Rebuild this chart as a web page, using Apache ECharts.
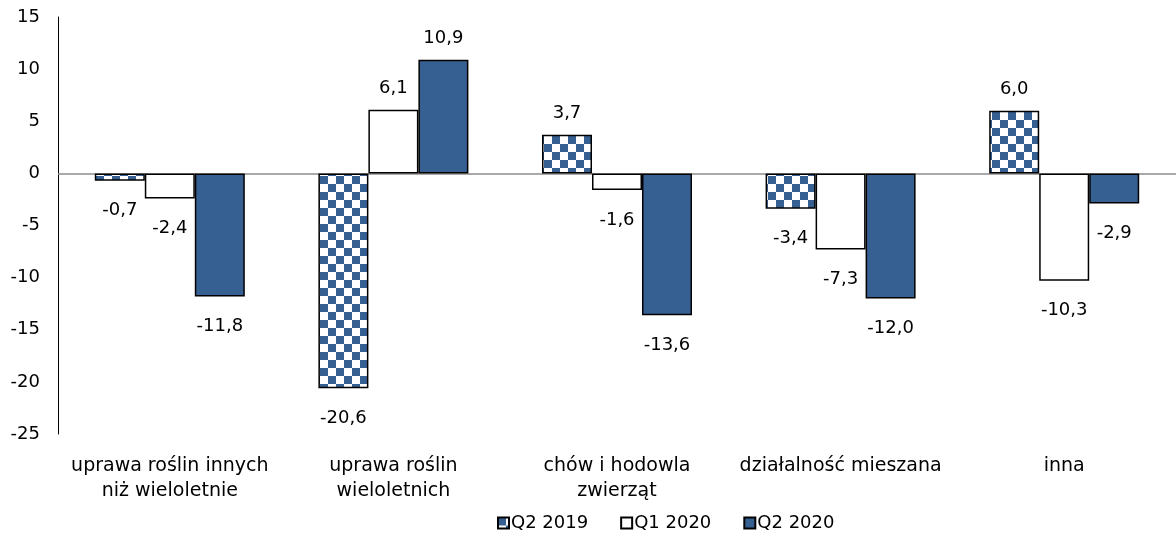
<!DOCTYPE html>
<html>
<head>
<meta charset="utf-8">
<script src="https://cdn.jsdelivr.net/npm/echarts@6/dist/echarts.min.js"></script>
<style>
  html, body { margin: 0; padding: 0; background: #ffffff; }
  #chart { width: 1176px; height: 537px; }
</style>
</head>
<body>
<div id="chart"></div>
<script>
// Categories (farm type) and values per quarter
const categories = [
  'uprawa roślin innych\nniż wieloletnie',
  'uprawa roślin\nwieloletnich',
  'chów i hodowla\nzwierząt',
  'działalność mieszana',
  'inna'
];
const seriesNames = ['Q2 2019', 'Q1 2020', 'Q2 2020'];
const q2_2019 = [-0.7, -20.6, 3.7, -3.4, 6.0];
const q1_2020 = [-2.4, 6.1, -1.6, -7.3, -10.3];
const q2_2020 = [-11.8, 10.9, -13.6, -12.0, -2.9];
const yTicks = { min: -25, max: 15, step: 5 };

const BLUE = '#376092';
const FONT = 'DejaVu Sans';

// Checkerboard fill for the first series
function checker(cell) {
  const c = document.createElement('canvas');
  c.width = c.height = cell * 2;
  const g = c.getContext('2d');
  g.fillStyle = '#ffffff';
  g.fillRect(0, 0, cell * 2, cell * 2);
  g.fillStyle = BLUE;
  g.fillRect(0, 0, cell, cell);
  g.fillRect(cell, cell, cell, cell);
  return c;
}

const fmt = v => v.toFixed(1).replace('.', ',');

function makeData(values) {
  return values.map(v => ({
    value: v,
    label: {
      position: v >= 0 ? 'top' : 'bottom',
      distance: v >= 0 ? 12 : 21
    }
  }));
}

const fills = [
  { image: checker(8), repeat: 'repeat' },
  '#ffffff',
  BLUE
];

const allValues = [q2_2019, q1_2020, q2_2020];

const series = allValues.map((vals, i) => ({
  name: seriesNames[i],
  type: 'bar',
  barWidth: 50,
  barGap: '0%',
  barCategoryGap: '33%',
  itemStyle: { color: fills[i], borderColor: '#000000', borderWidth: 1.5 },
  label: {
    show: true,
    formatter: p => fmt(p.value),
    fontFamily: FONT,
    fontSize: 18,
    color: '#000000'
  },
  data: makeData(vals),
  markLine: i === 0 ? {
    silent: true,
    symbol: 'none',
    label: { show: false },
    lineStyle: { color: '#8c8c8c', width: 1.5, type: 'solid' },
    data: [{ yAxis: 0 }],
    z: 1
  } : undefined
}));

const chart = echarts.init(document.getElementById('chart'), null, { renderer: 'canvas' });
chart.setOption({
  animation: false,
  backgroundColor: '#ffffff',
  grid: { left: 58, top: 17, height: 417, width: 1125 },
  legend: {
    data: seriesNames,
    top: 509,
    left: 492,
    itemWidth: 11,
    itemHeight: 11,
    itemGap: 32,
    icon: 'rect',
    textStyle: { fontFamily: FONT, fontSize: 18, color: '#000000', padding: [0, 0, 0, -3] }
  },
  xAxis: {
    type: 'category',
    data: categories,
    axisLine: { show: false },
    axisTick: { show: false },
    axisLabel: {
      fontFamily: FONT,
      fontSize: 19,
      color: '#000000',
      lineHeight: 25,
      margin: 20,
      interval: 0
    }
  },
  yAxis: {
    type: 'value',
    min: yTicks.min,
    max: yTicks.max,
    interval: yTicks.step,
    splitLine: { show: false },
    axisTick: { show: false },
    axisLine: { show: true, lineStyle: { color: '#000000', width: 1 } },
    axisLabel: { fontFamily: FONT, fontSize: 18, color: '#000000', margin: 18 }
  },
  series: series
});
</script>
</body>
</html>
